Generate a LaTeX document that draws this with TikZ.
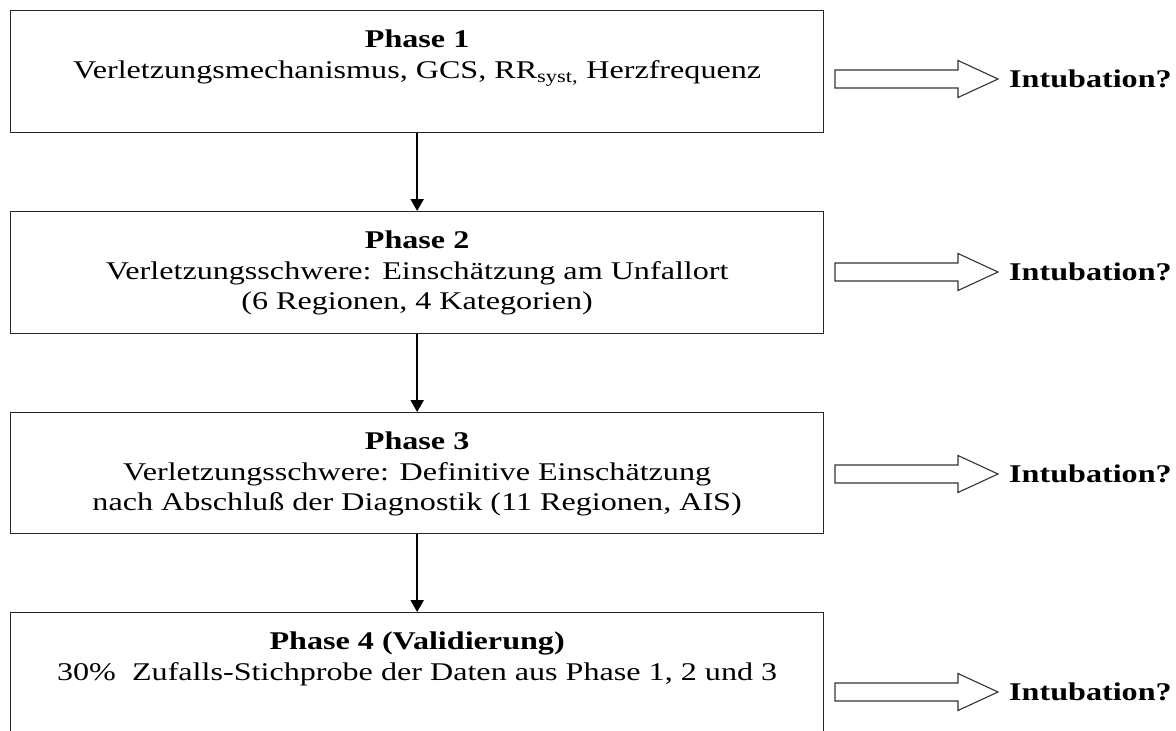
\documentclass[tikz,border=0pt]{standalone}
\usepackage{fontspec}
\setmainfont{Liberation Serif}[FakeStretch=1.26]
\usetikzlibrary{arrows.meta,calc}
\tikzset{
  x=1pt, y=-1pt,
  phasebox/.style={draw=black!85, line width=1.3pt, minimum width=813pt, inner sep=0pt, anchor=north west},
  phasetext/.style={align=center, anchor=north, inner sep=0pt, font=\fontsize{25.5}{30.5}\selectfont},
  vline/.style={draw=black, line width=2.2pt, -{Triangle[length=12pt,width=13pt]}},
  blockarrow/.style={draw=black!80, line width=1.1pt, fill=white},
  intub/.style={anchor=west, inner sep=0pt, font=\fontsize{25.5}{30}\selectfont\bfseries}
}
\begin{document}
\begin{tikzpicture}
\useasboundingbox (0,0) rectangle (1176,731);
\clip (0,0) rectangle (1176,731);
\fill[white] (0,0) rectangle (1176,731);
% boxes
\node[phasebox, minimum height=122pt] (p1) at (10,10) {};
\node[phasebox, minimum height=122pt] (p2) at (10,211) {};
\node[phasebox, minimum height=121pt] (p3) at (10,412) {};
\node[phasebox, minimum height=160pt] (p4) at (10,612) {};
% texts
\node[phasetext] (t1) at ($(p1.north)+(0,20)$) {\textbf{Phase 1}\\Verletzungsmechanismus, GCS, RR\textsubscript{syst,} Herzfrequenz};
\node[phasetext] (t2) at ($(p2.north)+(0,20)$) {\textbf{Phase 2}\\Verletzungsschwere: Einschätzung am Unfallort\\(6 Regionen, 4 Kategorien)};
\node[phasetext] (t3) at ($(p3.north)+(0,20)$) {\textbf{Phase 3}\\Verletzungsschwere: Definitive Einschätzung\\nach Abschluß der Diagnostik (11 Regionen, AIS)};
\node[phasetext] (t4) at ($(p4.north)+(0,20)$) {\textbf{Phase 4 (Validierung)}\\30\%\ \ Zufalls-Stichprobe der Daten aus Phase 1, 2 und 3};
% vertical connectors
\draw[vline] (p1.south) -- (p2.north);
\draw[vline] (p2.south) -- (p3.north);
\draw[vline] (p3.south) -- (p4.north);
% block arrows and labels
\foreach \i/\yc in {1/79, 2/272, 3/474, 4/692}{
  \coordinate (a\i) at (835,\yc);
  \draw[blockarrow] ($(a\i)+(0,-9)$) -- ($(a\i)+(123,-9)$) -- ($(a\i)+(123,-18.5)$) -- ($(a\i)+(163,0)$)
     -- ($(a\i)+(123,18.5)$) -- ($(a\i)+(123,9)$) -- ($(a\i)+(0,9)$) -- cycle;
  \node[intub] (i\i) at ($(a\i)+(174,0)$) {Intubation?};
}
\end{tikzpicture}
\end{document}
